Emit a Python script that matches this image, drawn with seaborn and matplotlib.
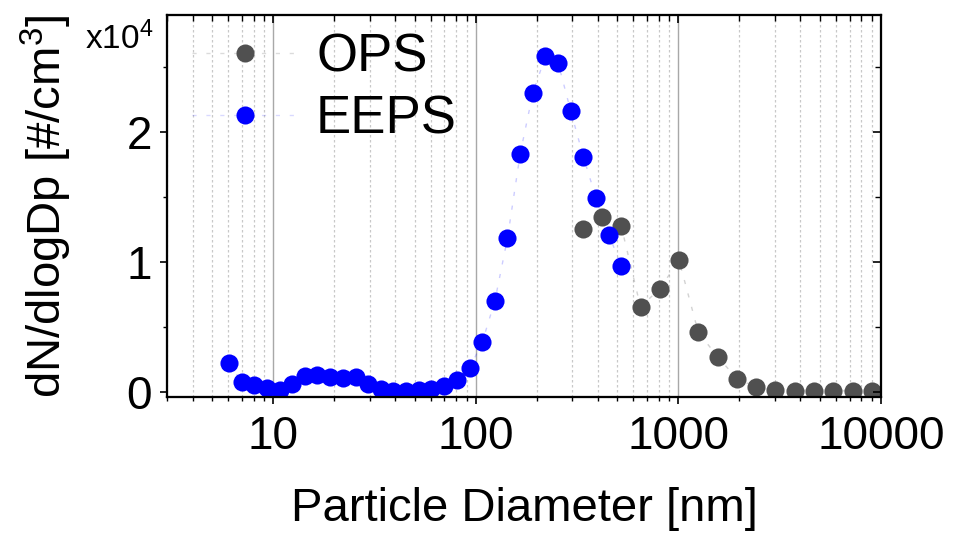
import numpy as np
import pandas as pd
import matplotlib
matplotlib.use("Agg")
import matplotlib.pyplot as plt
import seaborn as sns
from matplotlib.lines import Line2D
from matplotlib.ticker import LogLocator, NullFormatter, FixedLocator

# ---------------- data ----------------
eeps_d = [6.04, 6.98, 8.06, 9.31, 10.8, 12.4, 14.3, 16.5, 19.1, 22.1, 25.5, 29.4,
          34.0, 39.2, 45.3, 52.3, 60.4, 69.8, 80.6, 93.1, 107.5, 124.1, 143.3,
          165.5, 191.1, 220.7, 254.8, 294.3, 339.8, 392.4, 453.2, 523.3]
eeps_n = [2215, 710, 500, 250, 110, 550, 1215, 1270, 1140, 1060, 1140, 580,
          190, 70, 60, 80, 190, 450, 885, 1785, 3785, 6960, 11810,
          18290, 22985, 25830, 25320, 21580, 18060, 14885, 12090, 9650]
ops_d = [337, 419, 522, 650, 809, 1007, 1254, 1562, 1944, 2421, 3014, 3752,
         4672, 5816, 7241, 9016]
ops_n = [12500, 13420, 12750, 6520, 7910, 10115, 4550, 2680, 985, 345, 90, 50,
         50, 50, 50, 50]

x_ticks = [10, 100, 1000, 10000]
x_ticklabels = ["10", "100", "1000", "10000"]
y_ticks = [0, 10000, 20000]
y_ticklabels = ["0", "1", "2"]
series_names = ["OPS", "EEPS"]

ops_color = "#505050"
eeps_color = "#0000FF"

sns.set_style("white")
plt.rcParams["font.family"] = ["Liberation Sans", "DejaVu Sans"]
plt.rcParams["mathtext.fontset"] = "custom"
plt.rcParams["mathtext.rm"] = "Liberation Sans"
plt.rcParams["mathtext.it"] = "Liberation Sans:italic"
plt.rcParams["mathtext.default"] = "regular"
for k in ["text.color", "axes.labelcolor", "xtick.color", "ytick.color"]:
    plt.rcParams[k] = "black"

df_e = pd.DataFrame({"d": eeps_d, "n": eeps_n})
df_o = pd.DataFrame({"d": ops_d, "n": ops_n})

fig = plt.figure(figsize=(9.79, 5.36), dpi=100)
ax = fig.add_axes([0.1709, 0.2599, 0.729, 0.7121])
ax.set_xscale("log")

dash = (0, (3, 7))
sns.lineplot(data=df_o, x="d", y="n", ax=ax, color=ops_color, alpha=0.25,
             lw=1, linestyle=dash, zorder=2)
sns.lineplot(data=df_e, x="d", y="n", ax=ax, color=eeps_color, alpha=0.2,
             lw=1, linestyle=dash, zorder=2)
sns.scatterplot(data=df_o, x="d", y="n", ax=ax, color=ops_color, s=170,
                linewidth=0, zorder=3)
sns.scatterplot(data=df_e, x="d", y="n", ax=ax, color=eeps_color, s=170,
                linewidth=0, zorder=4)

ax.set_xlim(3, 10000)
ax.set_ylim(-400, 29000)

# grid
ax.xaxis.set_major_locator(FixedLocator(x_ticks))
ax.set_xticklabels(x_ticklabels)
ax.xaxis.set_minor_locator(LogLocator(base=10, subs=np.arange(2, 10), numticks=20))
ax.xaxis.set_minor_formatter(NullFormatter())
ax.grid(which="major", axis="x", color="#A8A8A8", lw=1.0, ls="-", zorder=0)
ax.grid(which="minor", axis="x", color="#C8C8C8", lw=0.9, ls=(0, (2, 2)), zorder=0)
ax.grid(which="both", axis="y", visible=False)

ax.set_yticks(y_ticks)
ax.set_yticklabels(y_ticklabels)
ax.yaxis.set_minor_locator(FixedLocator([5000, 15000, 25000]))

ax.tick_params(axis="both", which="major", direction="out", length=5, width=1.2,
               labelsize=33, color="black", labelcolor="black", pad=8)
ax.tick_params(axis="both", which="minor", direction="out", length=3, width=1.0,
               color="black")
ax.tick_params(axis="x", which="major", pad=8)
ax.tick_params(axis="y", which="major", pad=6)

for sp in ax.spines.values():
    sp.set_visible(True)
    sp.set_color("black")
    sp.set_linewidth(1.5)

# mirrored inward ticks on top/right
axt = ax.twiny()
axt.set_xscale("log")
axt.set_xlim(ax.get_xlim())
axt.xaxis.set_major_locator(FixedLocator(x_ticks))
axt.xaxis.set_minor_locator(LogLocator(base=10, subs=np.arange(2, 10), numticks=20))
axt.xaxis.set_major_formatter(NullFormatter())
axt.xaxis.set_minor_formatter(NullFormatter())
axt.tick_params(axis="x", which="major", direction="in", length=6, width=1.2)
axt.tick_params(axis="x", which="minor", direction="in", length=4, width=1.0)
axt.grid(False)
axr = ax.twinx()
axr.set_ylim(ax.get_ylim())
axr.yaxis.set_major_locator(FixedLocator(y_ticks))
axr.yaxis.set_minor_locator(FixedLocator([5000, 15000, 25000]))
axr.yaxis.set_major_formatter(NullFormatter())
axr.tick_params(axis="y", which="major", direction="in", length=6, width=1.2)
axr.tick_params(axis="y", which="minor", direction="in", length=4, width=1.0)
axr.grid(False)
for a in (axt, axr):
    for sp in a.spines.values():
        sp.set_linewidth(1.5)
        sp.set_color("black")

ax.set_xlabel("Particle Diameter [nm]", fontsize=34, labelpad=20, color="black")
ax.set_ylabel("dN/dlogDp [#/cm$^3$]", fontsize=34, labelpad=38, color="black")

fig.text(153 / 979, 1 - 49 / 536, "x10$^4$", ha="right", va="baseline",
         fontsize=24, color="black")

handles = [
    Line2D([], [], color=(0.31, 0.31, 0.31, 0.2), ls=dash, lw=1, marker="o",
           markersize=13, markerfacecolor=ops_color, markeredgewidth=0),
    Line2D([], [], color=(0, 0, 1, 0.15), ls=dash, lw=1, marker="o",
           markersize=13, markerfacecolor=eeps_color, markeredgewidth=0),
]
leg = ax.legend(handles, series_names, loc="upper left",
                bbox_to_anchor=(0.0346, 0.954), frameon=False, fontsize=38,
                handlelength=2.0, handletextpad=0.35, labelspacing=0.23,
                borderpad=0, borderaxespad=0)
for t in leg.get_texts():
    t.set_color("black")
leg.set_zorder(10)

fig.savefig("out.png", dpi=100)
